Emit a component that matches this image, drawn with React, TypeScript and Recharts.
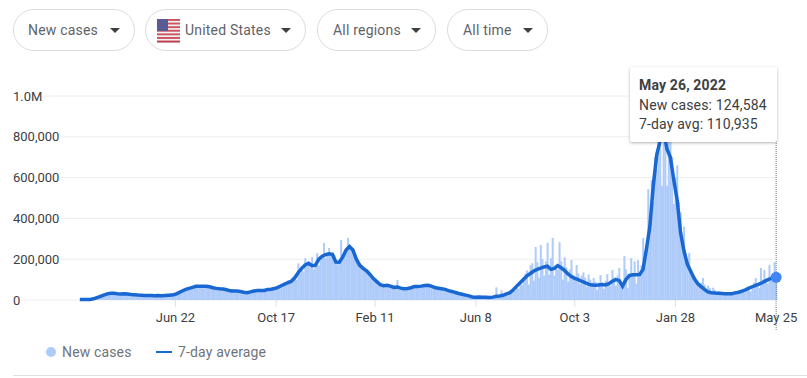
import React from "react";
import {
  Bar,
  CartesianGrid,
  ComposedChart,
  Line,
  ReferenceDot,
  ReferenceLine,
  XAxis,
  YAxis,
} from "recharts";

// Thousands of new cases, one value per two days.
const casesK: number[] = [
  1, 2, 2, 3, 3, 3, 4, 4, 5, 6, 12, 16, 20, 24, 27, 31, 33, 35, 34, 33,
  32, 31, 30, 32, 31, 28, 30, 27, 26, 28, 24, 25, 23, 25, 22, 24, 21, 23, 22, 24,
  21, 23, 22, 20, 23, 21, 24, 20, 23, 22, 24, 21, 25, 23, 27, 24, 31, 30, 38, 42,
  47, 45, 54, 52, 60, 56, 66, 64, 72, 68, 70, 66, 69, 62, 68, 64, 60, 56, 60, 54,
  58, 53, 57, 50, 52, 46, 47, 43, 47, 42, 46, 40, 42, 37, 38, 35, 37, 34, 38, 36,
  42, 39, 46, 42, 48, 44, 50, 43, 52, 47, 55, 50, 58, 53, 62, 56, 70, 64, 80, 72,
  88, 78, 96, 85, 100, 92, 110, 100, 180, 130, 150, 140, 205, 165, 185, 160, 210, 150, 175, 230,
  170, 200, 210, 280, 205, 225, 255, 215, 225, 220, 190, 175, 185, 294, 200, 230, 245, 304, 270, 250,
  255, 225, 205, 195, 180, 170, 160, 150, 148, 135, 130, 118, 108, 95, 92, 80, 85, 68, 72, 66,
  75, 70, 74, 62, 68, 60, 98, 58, 62, 52, 55, 50, 60, 55, 64, 58, 70, 62, 65, 68,
  66, 72, 68, 74, 70, 74, 68, 72, 65, 68, 60, 62, 56, 58, 52, 54, 48, 50, 44, 40,
  38, 36, 33, 32, 28, 26, 24, 21, 18, 16, 15, 14, 14, 15, 15, 14, 13, 14, 12, 13,
  12, 13, 14, 15, 62, 16, 18, 47, 22, 20, 26, 35, 30, 38, 50, 45, 62, 55, 85, 72,
  110, 130, 145, 75, 170, 180, 95, 260, 185, 110, 270, 200, 120, 190, 280, 125, 205, 304, 120, 170,
  150, 284, 190, 100, 210, 160, 90, 150, 196, 120, 110, 172, 130, 80, 120, 135, 110, 65, 125, 100,
  85, 108, 90, 50, 85, 122, 85, 55, 95, 127, 85, 70, 147, 110, 70, 120, 157, 90, 60, 215,
  150, 60, 130, 205, 120, 190, 80, 195, 130, 170, 304, 180, 240, 544, 380, 588, 480, 700, 640, 870,
  900, 560, 1040, 950, 560, 880, 800, 700, 470, 600, 660, 480, 430, 290, 360, 230, 190, 230, 150, 110,
  115, 85, 95, 70, 85, 108, 75, 45, 70, 60, 42, 60, 50, 35, 45, 42, 30, 40, 38, 36,
  38, 30, 36, 40, 30, 42, 38, 35, 46, 44, 38, 52, 55, 42, 62, 85, 108, 70, 60, 157,
  100, 147, 105, 80, 172, 120, 95, 186, 125,
];

// Thousands, 7-day average, one value per four days.
const avgK: number[] = [
  2, 2, 3, 3, 6, 12, 18, 24, 30, 33, 33, 31, 30, 31, 29, 27, 26, 24, 23, 22,
  22, 22, 21, 22, 21, 22, 23, 24, 28, 36, 44, 52, 57, 62, 67, 68, 68, 67, 65, 60,
  57, 55, 54, 50, 45, 44, 44, 42, 38, 36, 40, 44, 46, 46, 47, 51, 53, 56, 62, 70,
  78, 85, 92, 110, 135, 155, 172, 180, 168, 170, 200, 215, 222, 226, 224, 186, 185, 210, 245, 262,
  245, 200, 170, 155, 143, 125, 105, 90, 75, 70, 72, 68, 62, 64, 58, 55, 56, 60, 66, 66,
  68, 71, 72, 68, 61, 58, 55, 52, 46, 42, 37, 32, 28, 24, 20, 15, 14, 15, 14, 13,
  12, 14, 18, 20, 23, 30, 36, 50, 68, 85, 102, 118, 130, 142, 150, 156, 162, 166, 150, 155,
  168, 158, 145, 128, 115, 106, 100, 92, 85, 78, 73, 72, 74, 76, 74, 80, 92, 100, 96, 68,
  100, 120, 124, 124, 125, 150, 250, 360, 560, 710, 780, 835, 740, 700, 590, 490, 330, 240, 175, 140,
  105, 80, 66, 52, 40, 36, 34, 33, 32, 31, 31, 31, 35, 38, 44, 50, 58, 65, 72, 78,
  86, 95, 102, 108, 111,
];

const tickIndexes = [56, 115, 173, 232, 290, 349, 408];
const tickLabels = ["Jun 22", "Oct 17", "Feb 11", "Jun 8", "Oct 3", "Jan 28", "May 25"];
const yTicks = [0, 200000, 400000, 600000, 800000, 1000000];
const yLabels = ["0", "200,000", "400,000", "600,000", "800,000", "1.0M"];
const filters = ["New cases", "United States", "All regions", "All time"];
const tooltipDate = "May 26, 2022";
const tooltipCases = 124584;
const tooltipAvg = 110935;
const legendCases = "New cases";
const legendAvg = "7-day average";

const rows = casesK.map((c, i) => ({
  i,
  cases: c * 1000,
  avg: i % 2 === 0 ? avgK[i / 2] * 1000 : null,
}));

const FONT = "Roboto, sans-serif";
const lastIndex = rows.length - 1;

function YTick(props: any) {
  const idx = yTicks.indexOf(props.payload.value);
  return (
    <text
      x={13}
      y={props.y + 4.5}
      fontFamily={FONT}
      fontSize={13}
      fill="#3c4043"
      textAnchor="start"
      stroke="#fff"
      strokeWidth={4}
      style={{ paintOrder: "stroke" }}
    >
      {yLabels[idx]}
    </text>
  );
}

function XTick(props: any) {
  const idx = tickIndexes.indexOf(props.payload.value);
  return (
    <text x={props.x} y={321.5} fontFamily={FONT} fontSize={13} fill="#3c4043" textAnchor="middle">
      {tickLabels[idx]}
    </text>
  );
}

// Recharts narrows bars this thin to a whole pixel, which leaves white gaps.
function CaseBar(props: any) {
  const w = 2;
  return <rect x={props.x + props.width / 2 - w / 2} y={props.y} width={w} height={props.height} fill="#aecbfa" />;
}

function Flag() {
  const stripes = [0, 1, 2, 3, 4, 5, 6];
  return (
    <svg width={23} height={24} style={{ position: "absolute", left: 11, top: 9 }}>
      <rect x={0} y={0} width={23} height={24} rx={2} fill="#f1f1f1" />
      {stripes.map((s) => (
        <rect key={s} x={0} y={s * 3.6} width={23} height={1.9} fill={s === 6 ? "#c2394b" : "#d0525f"} />
      ))}
      <rect x={0} y={0} width={11} height={12} fill="#5a5a94" />
    </svg>
  );
}

function Pill({ label, left, width, textLeft }: { label: string; left: number; width: number; textLeft: number }) {
  return (
    <div
      style={{
        position: "absolute",
        left,
        top: 9,
        width,
        height: 42,
        boxSizing: "border-box",
        border: "1px solid #dadce0",
        borderRadius: 21,
        background: "#fff",
      }}
    >
      {label === "United States" ? <Flag /> : null}
      <span
        style={{
          position: "absolute",
          left: textLeft,
          top: 11,
          fontFamily: FONT,
          fontSize: 14,
          lineHeight: "19px",
          letterSpacing: 0.2,
          color: "#5f6368",
          whiteSpace: "nowrap",
        }}
      >
        {label}
      </span>
      <span
        style={{
          position: "absolute",
          right: 14,
          top: 18,
          width: 0,
          height: 0,
          borderLeft: "5.5px solid transparent",
          borderRight: "5.5px solid transparent",
          borderTop: "5.5px solid #3c4043",
        }}
      />
    </div>
  );
}

export default function App() {
  return (
    <div style={{ position: "absolute", left: 0, top: 0, width: 807, height: 378, overflow: "hidden", background: "#fff" }}>
      <Pill label={filters[0]} left={13} width={122} textLeft={14} />
      <Pill label={filters[1]} left={145} width={161} textLeft={39} />
      <Pill label={filters[2]} left={317} width={119} textLeft={15} />
      <Pill label={filters[3]} left={447} width={101} textLeft={15} />

      <div style={{ position: "absolute", left: 0, top: 0 }}>
        <ComposedChart
          width={807}
          height={340}
          data={rows}
          barCategoryGap={0}
          margin={{ top: 68, right: 30, bottom: 0, left: 12 }}
        >
          <CartesianGrid vertical={false} stroke="#eeeeee" syncWithTicks />
          <XAxis
            dataKey="i"
            type="category"
            ticks={tickIndexes}
            interval={0}
            padding={{ left: 66, right: 0 }}
            axisLine={false}
            tickLine={{ stroke: "#e0e0e0" }}
            tickSize={7}
            tick={<XTick />}
            height={40}
          />
          <YAxis
            type="number"
            domain={[0, 1137255]}
            ticks={yTicks}
            width={1}
            axisLine={false}
            tickLine={false}
            tick={<YTick />}
          />
          <Bar dataKey="cases" fill="#aecbfa" shape={<CaseBar />} isAnimationActive={false} />
          <Line
            dataKey="avg"
            type="linear"
            stroke="#1967d2"
            strokeWidth={3.5}
            dot={false}
            connectNulls
            isAnimationActive={false}
          />
          <ReferenceLine
            ifOverflow="visible"
            segment={[
              { x: lastIndex, y: -147000 },
              { x: lastIndex, y: 1137255 },
            ]}
            stroke="#70757a"
            strokeDasharray="1 1"
          />
          <ReferenceDot
            x={lastIndex}
            y={tooltipAvg}
            r={5.5}
            fill="#4285f4"
            stroke="none"
            ifOverflow="visible"
          />
        </ComposedChart>
      </div>

      <div
        style={{
          position: "absolute",
          left: 630,
          top: 67,
          width: 147,
          height: 75,
          boxSizing: "border-box",
          padding: "9px 9px",
          background: "#fff",
          borderRadius: 2,
          boxShadow: "0 1px 3px rgba(60,64,67,0.4)",
          fontFamily: FONT,
          fontSize: 14,
          lineHeight: "19.5px",
          letterSpacing: 0.15,
          color: "#3c4043",
          whiteSpace: "nowrap",
        }}
      >
        <div style={{ fontWeight: 700 }}>{tooltipDate}</div>
        <div>New cases: {tooltipCases.toLocaleString("en-US")}</div>
        <div>7-day avg: {tooltipAvg.toLocaleString("en-US")}</div>
      </div>

      <div style={{ position: "absolute", left: 46, top: 347, width: 10, height: 10, borderRadius: 5, background: "#aecbfa" }} />
      <span style={{ position: "absolute", left: 62, top: 343, fontFamily: FONT, fontSize: 14, lineHeight: "18px", letterSpacing: 0.15, color: "#70757a" }}>
        {legendCases}
      </span>
      <div style={{ position: "absolute", left: 156, top: 351, width: 16, height: 2, background: "#1967d2" }} />
      <span style={{ position: "absolute", left: 178, top: 343, fontFamily: FONT, fontSize: 14, lineHeight: "18px", letterSpacing: 0.15, color: "#70757a" }}>
        {legendAvg}
      </span>
      <div style={{ position: "absolute", left: 13, top: 375, width: 794, height: 1, background: "#e0e0e0" }} />
    </div>
  );
}
